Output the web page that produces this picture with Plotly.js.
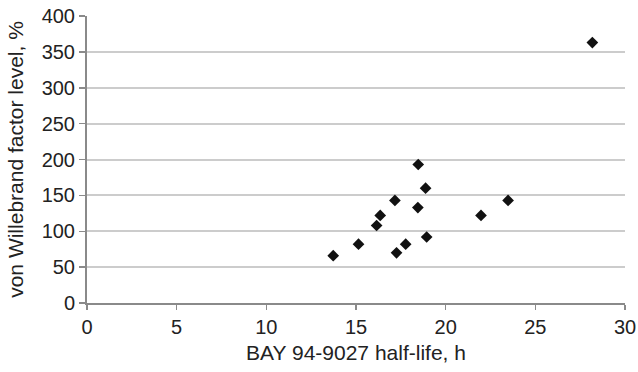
<!DOCTYPE html>
<html><head><meta charset="utf-8">
<script src="https://cdn.plot.ly/plotly-3.0.1.min.js"></script>
<style>html,body{margin:0;padding:0;background:#fff}#c{width:638px;height:372px}</style>
</head><body><div id="c"></div>
<script>
const halfLife = [28.18, 18.47, 18.88, 17.17, 18.45, 23.48, 21.97, 16.35, 16.15, 15.14, 13.73, 17.26, 17.77, 18.94];
const vwfLevel = [363, 193, 160, 143, 133, 143, 122, 122, 108, 82, 66, 70, 82, 92];
const xTicks = [0, 5, 10, 15, 20, 25, 30];
const yTicks = [0, 50, 100, 150, 200, 250, 300, 350, 400];

const tickFont = {family: 'Liberation Sans, Arial, sans-serif', size: 20, color: '#222'};
const titleFont = {family: 'Liberation Sans, Arial, sans-serif', size: 21, color: '#222'};
Plotly.newPlot('c', [{
  x: halfLife, y: vwfLevel, type: 'scatter', mode: 'markers',
  marker: {symbol: 'diamond', size: 9, color: '#111'}
}], {
  width: 638, height: 372,
  margin: {l: 87, r: 13, t: 16, b: 69},
  paper_bgcolor: '#fff', plot_bgcolor: '#fff',
  font: tickFont,
  showlegend: false,
  xaxis: {
    range: [0, 30], tickvals: xTicks, ticktext: xTicks.map(String),
    showgrid: false, zeroline: false,
    showline: true, linecolor: '#8a8a8a', linewidth: 2,
    ticks: 'outside', ticklen: 5, tickcolor: '#8a8a8a', tickwidth: 1.5,
    tickfont: tickFont,
    title: {text: 'BAY 94-9027 half-life, h', font: titleFont, standoff: 8}
  },
  yaxis: {
    range: [0, 400], tickvals: yTicks, ticktext: yTicks.map(String),
    showgrid: true, gridcolor: '#cccccc', gridwidth: 2,
    zeroline: false,
    showline: true, linecolor: '#8a8a8a', linewidth: 2,
    ticks: 'outside', ticklen: 6, tickcolor: '#8a8a8a', tickwidth: 1.5,
    tickfont: tickFont,
    title: {text: 'von Willebrand factor level, %', font: titleFont, standoff: 12}
  }
}, {displayModeBar: false, staticPlot: true});
</script></body></html>
